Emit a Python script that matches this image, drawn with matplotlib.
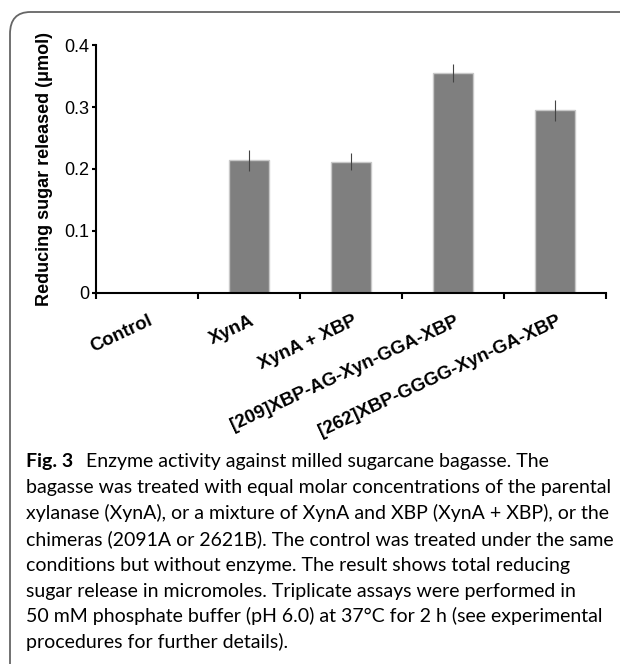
import matplotlib
matplotlib.use('Agg')
import matplotlib.pyplot as plt
from matplotlib.patches import FancyBboxPatch

# data
groups = ['Control', 'XynA', 'XynA + XBP', '[209]XBP-AG-Xyn-GGA-XBP', '[262]XBP-GGGG-Xyn-GA-XBP']
sugar = [0.0, 0.214, 0.212, 0.355, 0.295]
err = [0.0, 0.017, 0.014, 0.015, 0.017]
yticks = [0, 0.1, 0.2, 0.3, 0.4]
ylabels = ['0', '0.1', '0.2', '0.3', '0.4']

caption_lines = [
    'bagasse was treated with equal molar concentrations of the parental',
    'xylanase (XynA), or a mixture of XynA and XBP (XynA + XBP), or the',
    'chimeras (2091A or 2621B). The control was treated under the same',
    'conditions but without enzyme. The result shows total reducing',
    'sugar release in micromoles. Triplicate assays were performed in',
    '50 mM phosphate buffer (pH 6.0) at 37°C for 2 h (see experimental',
    'procedures for further details).',
]

W, H = 620, 664
fig = plt.figure(figsize=(W / 100, H / 100), dpi=100)

# rounded frame around the figure panel
frame = FancyBboxPatch((10 / W, -0.2), 1.2, 1 - 12 / H + 0.2,
                       boxstyle='round,pad=0,rounding_size=0.033',
                       transform=fig.transFigure, fill=False,
                       edgecolor='#666666', linewidth=1.3)
fig.patches.append(frame)

ax = fig.add_axes([96 / W, 1 - 293 / H, (606 - 96) / W, (293 - 45) / H])
x = list(range(len(groups)))
ax.bar(x, sugar, width=0.39, color='#7f7f7f', edgecolor='#c8c8c8', linewidth=1.0, zorder=2)
ebx = [i for i in x if sugar[i] > 0]
ax.errorbar(ebx, [sugar[i] for i in ebx], yerr=[err[i] for i in ebx],
            fmt='none', ecolor='#444444', elinewidth=0.8, capsize=0, zorder=3)

ax.set_xlim(-0.5, len(groups) - 0.5)
ax.set_ylim(0, 0.4)
for s in ['top', 'right']:
    ax.spines[s].set_visible(False)
for s in ['left', 'bottom']:
    ax.spines[s].set_linewidth(1.5)
    ax.spines[s].set_color('black')

ax.set_yticks(yticks)
ax.set_yticklabels(ylabels, fontsize=13, family='Liberation Sans')
ax.tick_params(axis='y', direction='out', length=3, width=1.5, pad=2)

# x ticks sit between categories, labels at category centres
ax.set_xticks([i - 0.5 for i in range(len(groups) + 1)])
ax.set_xticklabels([''] * (len(groups) + 1))
ax.tick_params(axis='x', direction='out', length=4, width=1.5)
for i, g in enumerate(groups):
    ax.annotate(g, xy=(i, 0), xycoords=('data', 'axes fraction'),
                xytext=(1, -14), textcoords='offset points',
                rotation=25, ha='right', va='top', rotation_mode='anchor',
                fontsize=13.5, fontweight='bold', family='Liberation Sans')

ax.set_ylabel('Reducing sugar released (μmol)', fontsize=13, fontweight='bold',
              family='Liberation Sans', labelpad=8)

# caption
y0 = 1 - 467 / H
step = 25.9 / H
fig.text(26 / W, y0, 'Fig. 3', fontsize=14, fontweight='bold', family='Lato', va='baseline')
fig.text(86 / W, y0, 'Enzyme activity against milled sugarcane bagasse. The',
         fontsize=14, family='Lato', va='baseline')
for k, line in enumerate(caption_lines):
    fig.text(26 / W, y0 - (k + 1) * step, line, fontsize=14, family='Lato', va='baseline')

fig.savefig('out.png', dpi=100)
